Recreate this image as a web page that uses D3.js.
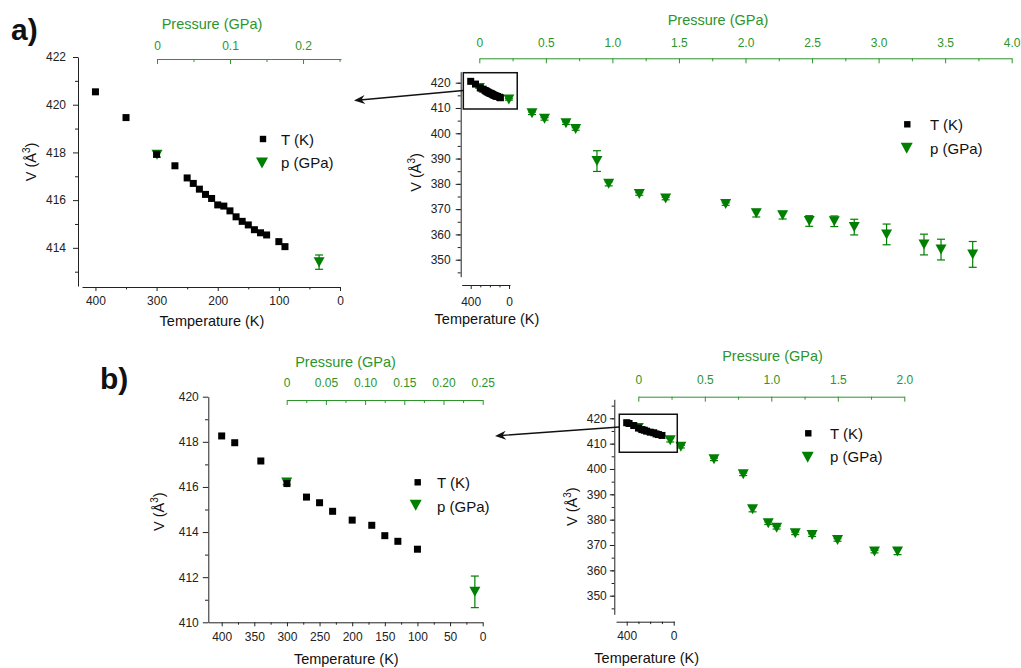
<!DOCTYPE html>
<html lang="en">
<head>
<meta charset="UTF-8">
<script src="https://cdn.jsdelivr.net/npm/d3@7"></script>
<style>
  body { margin:0; background:#fff; }
  svg { font-family: "Liberation Sans", Arial, sans-serif; }
  .title { font-size:14.5px; }
  .legend text { font-size:15px; fill:#111; }
  .tag { font-size:30px; font-weight:bold; fill:#111; }
</style>
</head>
<body>
<svg width="1021" height="668"></svg>
<script>
// panel a : temperature series
var tempA = [400,350,300,270,250,240,230,220,210,200,190,180,170,160,150,140,130,120,100,90];
var volTempA = [420.54,419.46,417.92,417.44,416.93,416.70,416.46,416.24,416.07,415.80,415.75,415.55,415.30,415.11,414.96,414.76,414.63,414.54,414.26,414.05];
// panel a : pressure series
var presA = [0,0.222,0.396,0.49,0.651,0.724,0.884,0.972,1.202,1.40,1.851,2.081,2.279,2.479,2.667,2.817,3.06,3.341,3.469,3.707];
var volPresA = [417.9,413.4,407.9,405.7,404.0,401.7,389.0,380.0,376.0,374.2,372.0,368.4,367.6,365.3,365.2,362.9,360.0,356.0,354.0,352.1];
var errPresA = [0.1,0.3,0.5,0.5,0.5,0.5,4.1,0.8,0.5,0.5,0.5,1.5,1.5,2.1,2.1,3.1,4.1,4.1,4.1,5.1];

// panel b : temperature series
var tempB = [400,380,340,300,270,250,230,200,170,150,130,100];
var volTempB = [418.26,417.96,417.15,416.15,415.55,415.30,414.92,414.53,414.30,413.84,413.59,413.24];
// panel b : pressure series
var presB = [0,0.24,0.32,0.569,0.789,0.859,0.977,1.04,1.18,1.307,1.498,1.776,1.949];
var volPresB = [416.2,411.35,408.8,403.8,397.9,384.1,378.6,376.8,374.6,373.9,372.0,367.4,367.4];
var errPresB = [0.1,0.7,0.5,0.5,0.5,1.0,0.5,0.5,0.5,0.5,0.5,0.5,1.2];

var legendNames = ["T (K)", "p (GPa)"];

var svg = d3.select("svg");
var green = "#007f00", axisGreen = "#2c952c", ink = "#222";
var triPath = "M-5.5,-5L5.5,-5L0,5Z";

function fmtP1(d) { return d === 0 ? "0" : d.toFixed(1); }
function fmtP2(d) { return d === 0 ? "0" : d.toFixed(2); }
function steps(a, b, s) { return d3.range(a, b + s / 2, s).map(function(d){ return +d.toFixed(4); }); }

function axis(gen, scale, major, minor, fmt, size, pad, tr, color) {
  var g1 = svg.append("g").attr("transform", tr)
    .call(gen(scale).tickValues(minor).tickFormat("").tickSizeInner(size * 0.6).tickSizeOuter(0));
  var g2 = svg.append("g").attr("transform", tr)
    .call(gen(scale).tickValues(major).tickFormat(fmt).tickSizeInner(size).tickSizeOuter(0).tickPadding(pad));
  g2.select(".domain").remove();
  [g1, g2].forEach(function(g){
    g.attr("font-family", null).attr("font-size", 12).style("color", color);
  });
}

function yLabel(x, y) {
  var t = svg.append("text").attr("class", "title")
    .attr("transform", "translate(" + x + "," + y + ") rotate(-90)")
    .attr("text-anchor", "middle").attr("fill", "#111");
  t.append("tspan").text("V (Å");
  t.append("tspan").attr("dy", -6).attr("font-size", 10).text("3");
  t.append("tspan").attr("dy", 6).text(")");
}

function drawPanel(c, tVals, tVol, pVals, pVol, pErr) {
  var x = d3.scaleLinear().domain(c.tDom).range(c.tRange);
  var xp = d3.scaleLinear().domain(c.pDom).range(c.pRange);
  var y = d3.scaleLinear().domain(c.vDom).range(c.vRange);

  axis(d3.axisLeft, y, c.vMajor, c.vMinor, function(d){ return d; }, c.ySize, c.yPad,
       "translate(" + c.vX + ",0)", ink);
  axis(d3.axisBottom, x, c.tMajor, c.tMinor, function(d){ return d; }, 4, c.tPad,
       "translate(0," + c.tY + ")", ink);
  axis(d3.axisTop, xp, c.pMajor, c.pMinor, c.pFmt, -5, c.pPad,
       "translate(0," + c.pY + ")", axisGreen);

  svg.append("text").attr("class", "title").attr("text-anchor", "middle")
    .attr("x", c.pTitle[0]).attr("y", c.pTitle[1]).attr("fill", axisGreen).text("Pressure (GPa)");
  svg.append("text").attr("class", "title").attr("text-anchor", "middle")
    .attr("x", c.tTitle[0]).attr("y", c.tTitle[1]).attr("fill", "#111").text("Temperature (K)");
  yLabel(c.vLab[0], c.vLab[1]);

  var pts = pVals.map(function(p, i){ return {p: p, v: pVol[i], e: pErr[i]}; })
    .filter(function(d){ return d.p <= c.pDom[1]; });

  var eb = svg.append("g").attr("stroke", green).attr("stroke-width", 1.2);
  pts.forEach(function(d){
    var cx = xp(d.p), y0 = y(d.v - d.e), y1 = y(d.v + d.e);
    eb.append("line").attr("x1", cx).attr("x2", cx).attr("y1", y0).attr("y2", y1);
    eb.append("line").attr("x1", cx - 4).attr("x2", cx + 4).attr("y1", y0).attr("y2", y0);
    eb.append("line").attr("x1", cx - 4).attr("x2", cx + 4).attr("y1", y1).attr("y2", y1);
  });

  svg.append("g").selectAll("path").data(pts).enter().append("path")
    .attr("d", triPath).attr("fill", green)
    .attr("transform", function(d){ return "translate(" + xp(d.p) + "," + y(d.v) + ")"; });

  svg.append("g").selectAll("rect").data(tVals).enter().append("rect")
    .attr("x", function(d){ return x(d) - 3.5; })
    .attr("y", function(d, i){ return y(tVol[i]) - 3.5; })
    .attr("width", 7).attr("height", 7).attr("fill", "#000");

  // legend
  var lg = svg.append("g").attr("class", "legend");
  lg.append("rect").attr("x", c.lgSq[0] - 3.2).attr("y", c.lgSq[1] - 3.2)
    .attr("width", 6.4).attr("height", 6.4).attr("fill", "#000");
  lg.append("path").attr("d", "M-6,-5.5L6,-5.5L0,5.5Z").attr("fill", green)
    .attr("transform", "translate(" + c.lgTri[0] + "," + c.lgTri[1] + ")");
  lg.append("text").attr("x", c.lgX).attr("y", c.lgY[0]).text(legendNames[0]);
  lg.append("text").attr("x", c.lgX).attr("y", c.lgY[1]).text(legendNames[1]);

  if (c.box) {
    var bx0 = xp(c.box[0]), bx1 = xp(c.box[1]), by0 = y(c.box[3]), by1 = y(c.box[2]);
    svg.append("rect").attr("x", bx0).attr("y", by0).attr("width", bx1 - bx0).attr("height", by1 - by0)
      .attr("fill", "none").attr("stroke", "#111").attr("stroke-width", 1.5);
    var sx = bx0, sy = c.arrow[0], tx = c.arrow[1], ty = c.arrow[2];
    svg.append("line").attr("x1", sx).attr("y1", sy).attr("x2", tx + 6).attr("y2", ty - 0.5)
      .attr("stroke", "#111").attr("stroke-width", 1.3);
    var ang = Math.atan2(sy - ty, sx - tx) * 180 / Math.PI;
    svg.append("path").attr("d", "M0,0L11,-4.5L7.5,0L11,4.5Z").attr("fill", "#111")
      .attr("transform", "translate(" + tx + "," + ty + ") rotate(" + ang + ")");
  }
}

drawPanel({
  tDom: [422, 0], tRange: [82, 340], tY: 287,
  vDom: [412.4, 422], vRange: [286, 57], vX: 78,
  pDom: [0, 0.252], pRange: [157, 341], pY: 59,
  tMajor: [400, 300, 200, 100, 0], tMinor: [350, 250, 150, 50],
  vMajor: steps(414, 422, 2), vMinor: steps(413, 421, 2),
  pMajor: [0, 0.1, 0.2], pMinor: [0.05, 0.15, 0.25], pFmt: fmtP1,
  ySize: 5, yPad: 7, tPad: 5.5, pPad: 9,
  pTitle: [212, 29], tTitle: [212, 326], vLab: [36, 162],
  lgSq: [263, 139], lgTri: [262, 163], lgX: 281, lgY: [145, 168]
}, tempA, volTempA, presA, volPresA, errPresA);

drawPanel({
  tDom: [494, -10], tRange: [461.7, 510], tY: 285,
  vDom: [343.28, 424.35], vRange: [276.7, 71.7], vX: 460.7,
  pDom: [0, 4], pRange: [479.3, 1011.7], pY: 58.3,
  tMajor: [400, 0], tMinor: [300, 200, 100],
  vMajor: steps(350, 420, 10), vMinor: steps(345, 420, 5),
  pMajor: steps(0, 4, 0.5), pMinor: steps(0.25, 3.75, 0.5), pFmt: fmtP1,
  ySize: 5, yPad: 5, tPad: 8.5, pPad: 11,
  pTitle: [718, 25], tTitle: [487, 324], vLab: [421, 172.5],
  lgSq: [907.3, 124.3], lgTri: [906.7, 148.3], lgX: 930, lgY: [130, 154],
  box: [-0.12, 0.285, 409.6, 423.95], arrow: [90.5, 354, 100.5]
}, tempA, volTempA, presA, volPresA, errPresA);

drawPanel({
  tDom: [420.5, 0], tRange: [208.3, 482.7], tY: 622.3,
  vDom: [410, 420], vRange: [622.3, 396.7], vX: 208.3,
  pDom: [0, 0.25], pRange: [286.7, 482.7], pY: 400,
  tMajor: steps(0, 400, 50), tMinor: steps(25, 375, 50),
  vMajor: steps(410, 420, 2), vMinor: steps(411, 419, 2),
  pMajor: steps(0, 0.25, 0.05), pMinor: steps(0.025, 0.225, 0.05), pFmt: fmtP2,
  ySize: 5.5, yPad: 4, tPad: 6.5, pPad: 13,
  pTitle: [345.5, 367], tTitle: [346.3, 664], vLab: [164, 511.7],
  lgSq: [417.7, 482.3], lgTri: [415.7, 505.3], lgX: 437, lgY: [488, 511.5]
}, tempB, volTempB, presB, volPresB, errPresB);

drawPanel({
  tDom: [491, -5.1], tRange: [616, 674.3], tY: 621.7,
  vDom: [342.65, 427.5], vRange: [614.3, 399.3], vX: 614.3,
  pDom: [0, 2], pRange: [638.3, 904.3], pY: 396.7,
  tMajor: [400, 0], tMinor: [300, 200, 100],
  vMajor: steps(350, 420, 10), vMinor: steps(345, 425, 5),
  pMajor: steps(0, 2, 0.5), pMinor: steps(0.25, 1.75, 0.5), pFmt: fmtP1,
  ySize: 4.5, yPad: 3, tPad: 6, pPad: 13,
  pTitle: [772.5, 361], tTitle: [646.7, 663], vLab: [577, 506.7],
  lgSq: [808.3, 433.3], lgTri: [807.7, 457.3], lgX: 830, lgY: [438.5, 462],
  box: [-0.143, 0.293, 406.6, 421.6], arrow: [427, 495, 436]
}, tempB, volTempB, presB, volPresB, errPresB);

svg.append("text").attr("class", "tag").attr("x", 11).attr("y", 40).text("a)");
svg.append("text").attr("class", "tag").attr("x", 100).attr("y", 389).text("b)");
</script>
</body>
</html>
